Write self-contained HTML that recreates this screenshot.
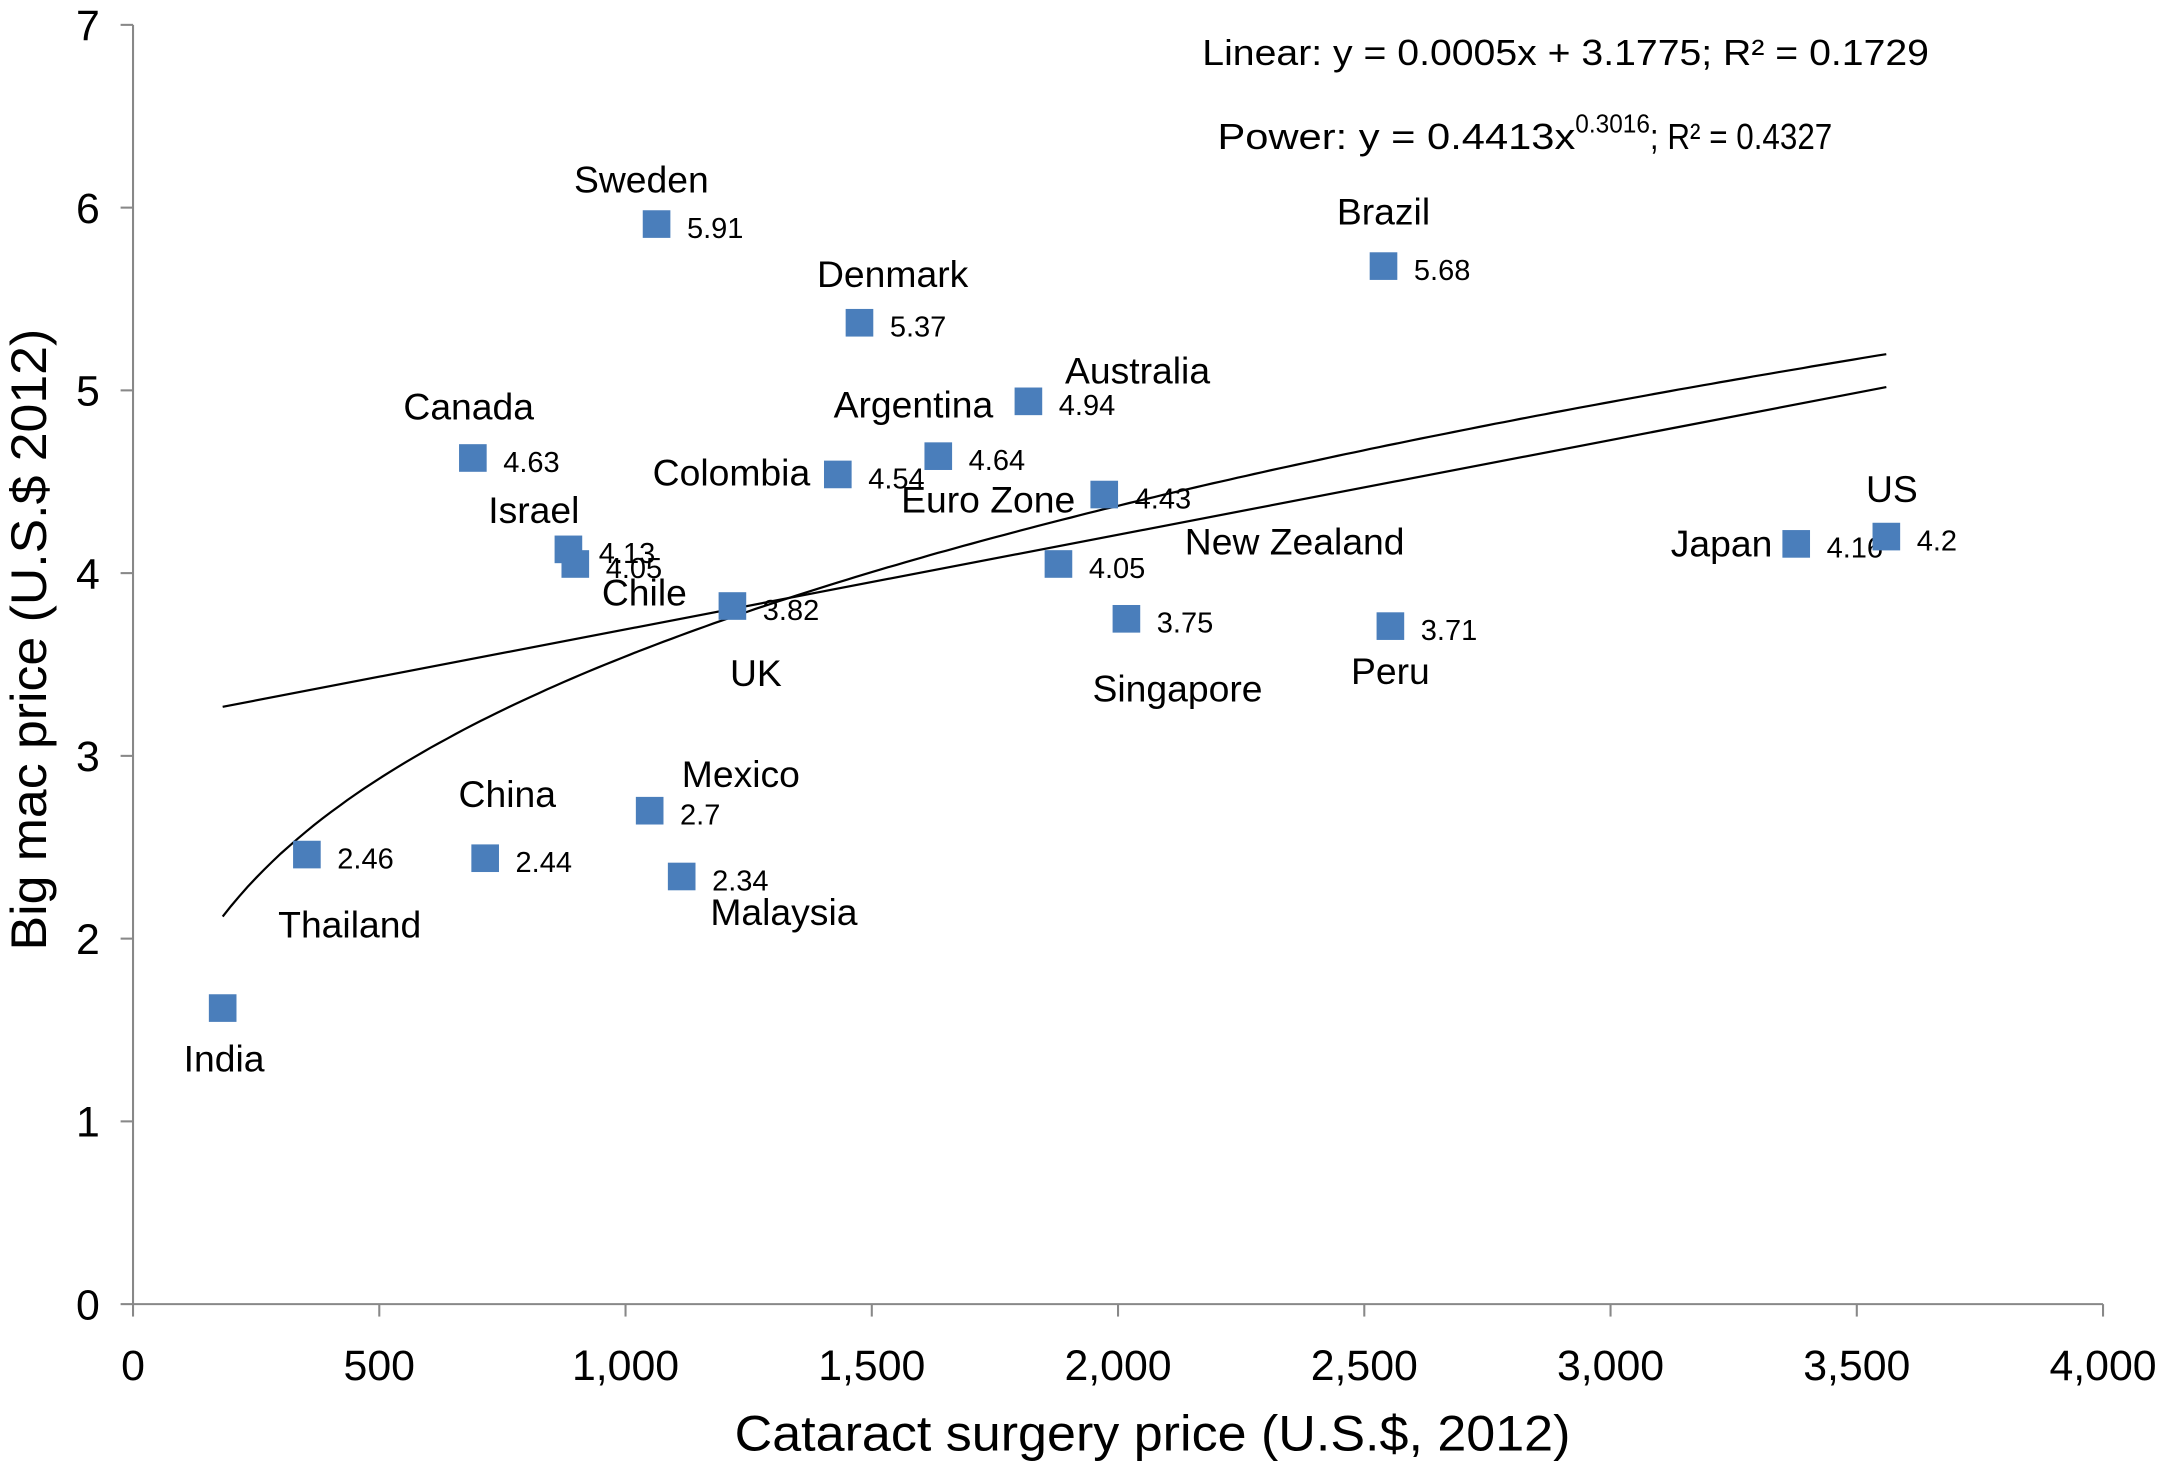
<!DOCTYPE html>
<html><head><meta charset="utf-8"><style>
html,body{margin:0;padding:0;background:#fff}
svg{display:block;font-family:"Liberation Sans",Arial,sans-serif}
</style></head><body>
<svg id="chart" width="2167" height="1463" viewBox="0 0 1568 1059" xmlns="http://www.w3.org/2000/svg">
<g id="axes"></g>
<g id="fits"></g>
<g id="points"></g>
<text x="870" y="47" font-size="26" textLength="526" lengthAdjust="spacingAndGlyphs">Linear: y = 0.0005x + 3.1775; R² = 0.1729</text>
<text x="881" y="108" font-size="26"><tspan textLength="259" lengthAdjust="spacingAndGlyphs">Power: y = 0.4413x</tspan><tspan dy="-12" font-size="19" textLength="54" lengthAdjust="spacingAndGlyphs">0.3016</tspan><tspan dy="12" textLength="132" lengthAdjust="spacingAndGlyphs">; R² = 0.4327</tspan></text>
<text x="834" y="1050" font-size="36" text-anchor="middle" textLength="605" lengthAdjust="spacingAndGlyphs">Cataract surgery price (U.S.$, 2012)</text>
<text transform="translate(33,463) rotate(-90)" font-size="36" text-anchor="middle" textLength="450" lengthAdjust="spacingAndGlyphs">Big mac price (U.S.$ 2012)</text>
</svg>
<script>
const countries=["India","Thailand","China","Mexico","Malaysia","Canada","Israel","Chile","UK","Sweden","Denmark","Colombia","Argentina","Australia","Euro Zone","New Zealand","Singapore","Peru","Brazil","Japan","US"];
const surgeryPrice=[182,353,715,1049,1114,690,884,898,1217,1063,1475,1431,1635,1818,1972,1879,2017,2553,2539,3377,3560];
const bigMacPrice=[1.62,2.46,2.44,2.7,2.34,4.63,4.13,4.05,3.82,5.91,5.37,4.54,4.64,4.94,4.43,4.05,3.75,3.71,5.68,4.16,4.2];
const showValue=[false,true,true,true,true,true,true,true,true,true,true,true,true,true,true,true,true,true,true,true,true];
const xTicks=[0,500,1000,1500,2000,2500,3000,3500,4000];
const xTickLabels=["0","500","1,000","1,500","2,000","2,500","3,000","3,500","4,000"];
const yTicks=[0,1,2,3,4,5,6,7];
// label offsets (styling, relative to point in px)
const labelDx=[1,31,16,66,74,-3,-25,50,17,-11,24,-77,-18,79,-84,171,37,0,0,-54,4];
const labelDy=[36,50,-47,-27,25,-38,-29,20,48,-33,-36,-2,-38,-23,3,-17,50,32,-40,-1,-35];
const NS="http://www.w3.org/2000/svg";
const X=v=>96+v/4000*1426, Y=v=>944-v/7*926;
function mk(p,t,a){const e=document.createElementNS(NS,t);for(const k in a)e.setAttribute(k,a[k]);p.appendChild(e);return e;}
const ax=document.getElementById('axes');
let e=mk(ax,'line',{x1:X(0),y1:Y(0),x2:X(4000),y2:Y(0),stroke:'#888','stroke-width':1.5});


e=mk(ax,'line',{x1:X(0),y1:Y(0),x2:X(0),y2:Y(7),stroke:'#888','stroke-width':1.5});


xTicks.forEach((v,i)=>{
 mk(ax,'line',{x1:X(v),y1:Y(0),x2:X(v),y2:Y(0)+9,stroke:'#888','stroke-width':1.5});
 const t=mk(ax,'text',{x:X(v),y:999,'font-size':31,'text-anchor':'middle'});t.textContent=xTickLabels[i];
 
 
});
yTicks.forEach(v=>{
 mk(ax,'line',{x1:X(0)-9,y1:Y(v),x2:X(0),y2:Y(v),stroke:'#888','stroke-width':1.5});
 const t=mk(ax,'text',{x:72,y:Y(v)+11,'font-size':31,'text-anchor':'end'});t.textContent=v;
 
 
});
const fits=document.getElementById('fits');
const xmin=Math.min(...surgeryPrice),xmax=Math.max(...surgeryPrice);
e=mk(fits,'line',{x1:X(xmin),y1:Y(0.0005*xmin+3.1775),x2:X(xmax),y2:Y(0.0005*xmax+3.1775)-8,stroke:'#000','stroke-width':1.6});


let d='';for(let i=0;i<=200;i++){const x=xmin+(xmax-xmin)*i/200;d+=(i?'L':'M')+X(x).toFixed(1)+','+Y(0.4413*Math.pow(x,0.3016)).toFixed(1);}
e=mk(fits,'path',{d:d,fill:'none',stroke:'#000','stroke-width':1.6});


const pts=document.getElementById('points');
countries.forEach((c,i)=>{
 const px=X(surgeryPrice[i]),py=Y(bigMacPrice[i]);
 const r=mk(pts,'rect',{x:px-10,y:py-10,width:20,height:20,fill:'#4a7ebb'});
 
 
 if(showValue[i]){
  const v=mk(pts,'text',{x:px+22,y:py+10,'font-size':21});v.textContent=bigMacPrice[i];
  
  
 }
 const l=mk(pts,'text',{x:px+labelDx[i],y:py+labelDy[i]+10,'font-size':27,'text-anchor':'middle'});l.textContent=c;
 
 
});
</script>
</body></html>
